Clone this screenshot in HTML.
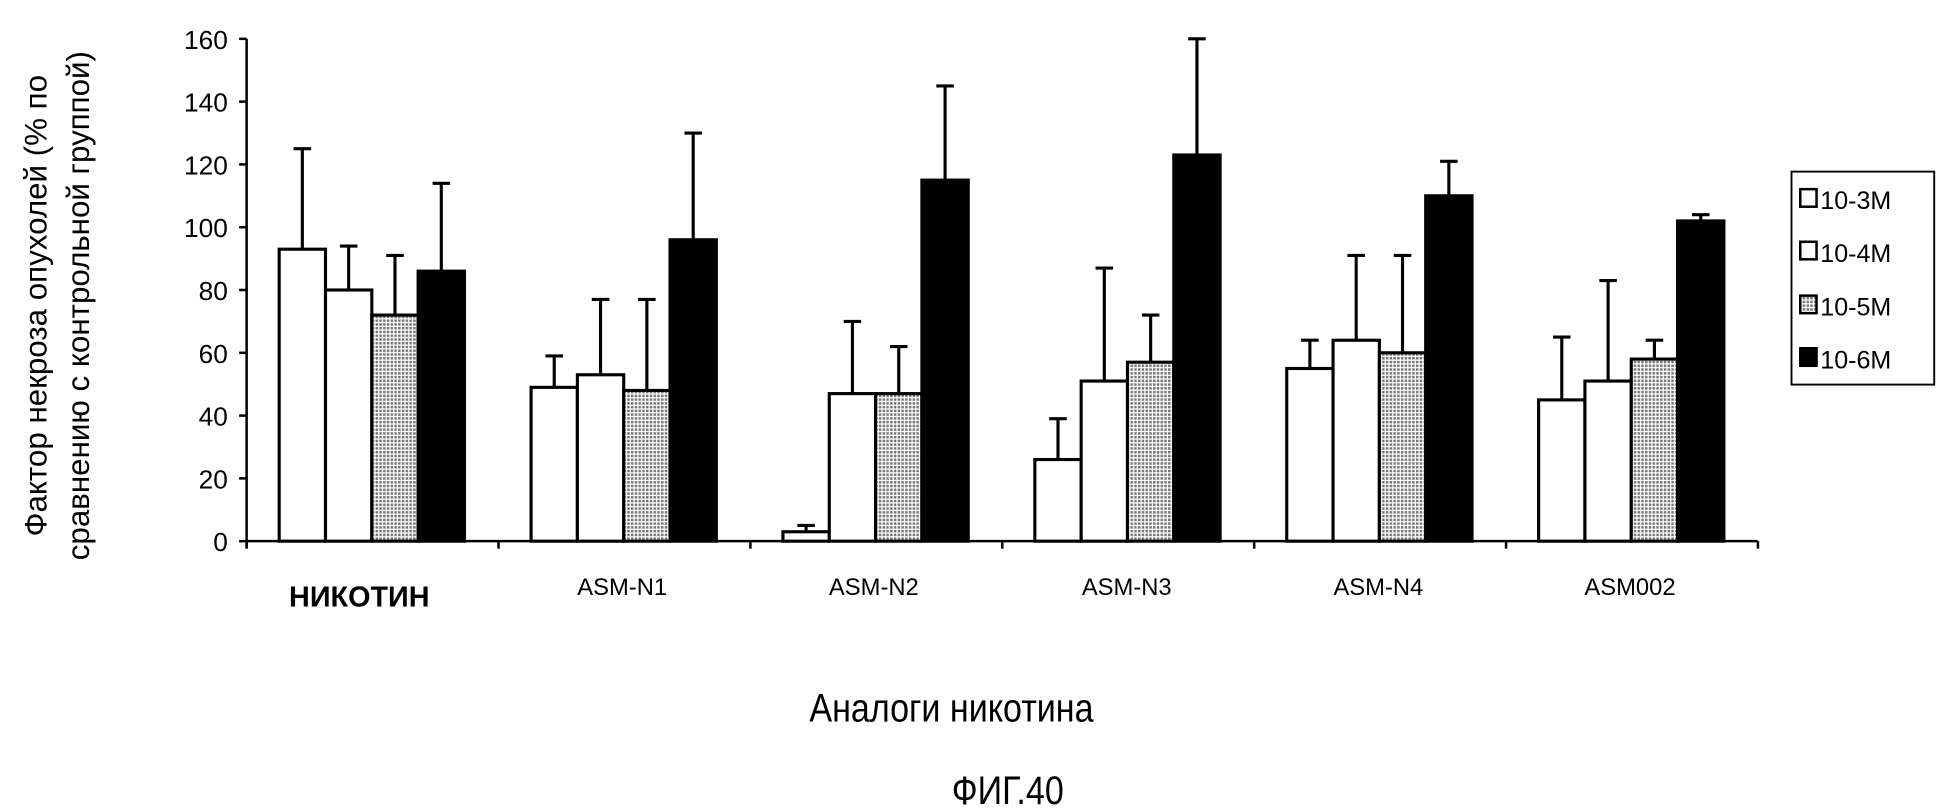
<!DOCTYPE html>
<html><head><meta charset="utf-8"><style>html,body{margin:0;padding:0;background:#fff}svg{display:block}</style></head>
<body>
<svg width="1953" height="808" viewBox="0 0 1560 645" preserveAspectRatio="none" xmlns="http://www.w3.org/2000/svg" font-family="'Liberation Sans', sans-serif">
<defs>
<pattern id="g" width="3" height="3" patternUnits="userSpaceOnUse">
<rect width="3" height="3" fill="#fff"/>
<rect width="2" height="2" fill="#777"/>
</pattern>
</defs>
<rect width="1560" height="645" fill="#fff"/>
<g stroke="#000" stroke-width="2" fill="none">
<line x1="197" y1="31" x2="197" y2="437"/>
<line x1="197" y1="432" x2="1404" y2="432"/>
</g>
<g id="yt" font-size="21" text-anchor="end" fill="#000"></g>
<g id="bars"></g>
<g font-size="19" text-anchor="middle" fill="#000">
<text x="287" y="484" font-size="23" font-weight="bold">НИКОТИН</text>
<text x="497" y="475">ASM-N1</text>
<text x="698" y="475">ASM-N2</text>
<text x="900" y="475">ASM-N3</text>
<text x="1101" y="475">ASM-N4</text>
<text x="1302" y="475">ASM002</text>
</g>
<text x="760" y="576" font-size="32" text-anchor="middle" transform="translate(760 0) scale(0.85 1) translate(-760 0)">Аналоги никотина</text>
<text x="805" y="642" font-size="32" text-anchor="middle" transform="translate(805 0) scale(0.85 1) translate(-805 0)">ФИГ.40</text>
<text transform="translate(37 244) rotate(-90)" font-size="25" text-anchor="middle">Фактор некроза опухолей (% по</text>
<text transform="translate(71 244) rotate(-90)" font-size="25" text-anchor="middle">сравнению с контрольной группой)</text>
<rect x="1431" y="137" width="114" height="170" fill="#fff" stroke="#000" stroke-width="1.5"/>
<g font-size="20" fill="#000">
<rect x="1438" y="151" width="13" height="14" fill="#fff" stroke="#000" stroke-width="2"/><text x="1454" y="167">10-3M</text>
<rect x="1438" y="193" width="13" height="14" fill="#fff" stroke="#000" stroke-width="2"/><text x="1454" y="209">10-4M</text>
<rect x="1438" y="236" width="13" height="14" fill="url(#g)" stroke="#000" stroke-width="2"/><text x="1454" y="252">10-5M</text>
<rect x="1438" y="278" width="13" height="14" fill="#000" stroke="#000" stroke-width="2"/><text x="1454" y="294">10-6M</text>
</g>
<script>
var ns="http://www.w3.org/2000/svg";
function el(p,t,a,txt){var e=document.createElementNS(ns,t);for(var k in a)e.setAttribute(k,a[k]);if(txt!=null)e.textContent=txt;p.appendChild(e);return e;}
var y0=432,s=(432-31)/160;
var yt=document.getElementById('yt');
for(var v=0;v<=160;v+=20){var y=y0-v*s;el(yt,'text',{x:182,y:y+8},String(v));el(yt,'line',{x1:191,y1:y,x2:197,y2:y,stroke:'#000','stroke-width':2});}
for(var i=0;i<=6;i++){var x=197+i*201.2;el(yt,'line',{x1:x,y1:432,x2:x,y2:438,stroke:'#000','stroke-width':2});}
var d=[[[93,125],[80,94],[72,91],[86,114]],[[49,59],[53,77],[48,77],[96,130]],[[3,5],[47,70],[47,62],[115,145]],[[26,39],[51,87],[57,72],[123,160]],[[55,64],[64,91],[60,91],[110,121]],[[45,65],[51,83],[58,64],[102,104]]];
var fills=['#fff','#fff','url(#g)','#000'];
var b=document.getElementById('bars');
for(var g=0;g<6;g++){var gx=197+g*201.2+26;for(var k=0;k<4;k++){var x=gx+k*37,v=d[g][k][0],e=d[g][k][1];var ty=y0-v*s,ey=y0-e*s,cx=x+18.5;
el(b,'line',{x1:cx,y1:ty,x2:cx,y2:ey,stroke:'#000','stroke-width':2.5});
el(b,'line',{x1:cx-7,y1:ey,x2:cx+7,y2:ey,stroke:'#000','stroke-width':2.5});
el(b,'rect',{x:x,y:ty,width:37,height:y0-ty,fill:fills[k],stroke:'#000','stroke-width':2.5});}}
</script>
</svg>
</body></html>
